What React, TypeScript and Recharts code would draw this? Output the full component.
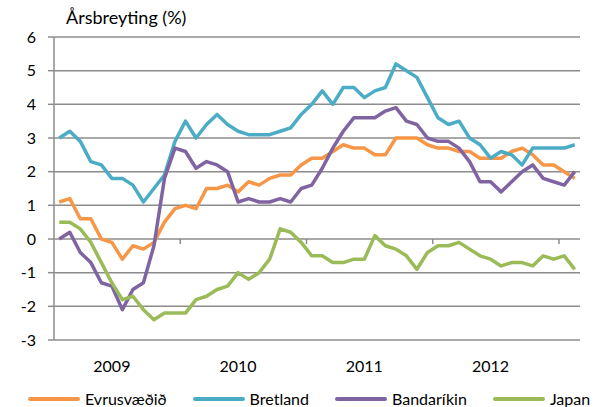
import { LineChart, Line, XAxis, YAxis, CartesianGrid, ReferenceLine, Legend } from "recharts";

// Monthly data, Jan 2009 - Feb 2013 (yearly change, %)
const YEARS = ["2009", "2010", "2011", "2012"];
const Y_TICKS = [-3, -2, -1, 0, 1, 2, 3, 4, 5, 6];

const EVRU = [
  1.1, 1.2, 0.6, 0.6, 0.0, -0.1, -0.6, -0.2, -0.3, -0.1,
  0.5, 0.9, 1.0, 0.9, 1.5, 1.5, 1.6, 1.4, 1.7, 1.6,
  1.8, 1.9, 1.9, 2.2, 2.4, 2.4, 2.6, 2.8, 2.7, 2.7,
  2.5, 2.5, 3.0, 3.0, 3.0, 2.8, 2.7, 2.7, 2.6, 2.6,
  2.4, 2.4, 2.4, 2.6, 2.7, 2.5, 2.2, 2.2, 2.0, 1.8,
];
const BRET = [
  3.0, 3.2, 2.9, 2.3, 2.2, 1.8, 1.8, 1.6, 1.1, 1.5,
  1.9, 2.9, 3.5, 3.0, 3.4, 3.7, 3.4, 3.2, 3.1, 3.1,
  3.1, 3.2, 3.3, 3.7, 4.0, 4.4, 4.0, 4.5, 4.5, 4.2,
  4.4, 4.5, 5.2, 5.0, 4.8, 4.2, 3.6, 3.4, 3.5, 3.0,
  2.8, 2.4, 2.6, 2.5, 2.2, 2.7, 2.7, 2.7, 2.7, 2.8,
];
const BAND = [
  0.0, 0.2, -0.4, -0.7, -1.3, -1.4, -2.1, -1.5, -1.3, -0.2,
  1.8, 2.7, 2.6, 2.1, 2.3, 2.2, 2.0, 1.1, 1.2, 1.1,
  1.1, 1.2, 1.1, 1.5, 1.6, 2.1, 2.7, 3.2, 3.6, 3.6,
  3.6, 3.8, 3.9, 3.5, 3.4, 3.0, 2.9, 2.9, 2.7, 2.3,
  1.7, 1.7, 1.4, 1.7, 2.0, 2.2, 1.8, 1.7, 1.6, 2.0,
];
const JAPAN = [
  0.5, 0.5, 0.3, -0.1, -0.7, -1.3, -1.8, -1.7, -2.1, -2.4,
  -2.2, -2.2, -2.2, -1.8, -1.7, -1.5, -1.4, -1.0, -1.2, -1.0,
  -0.6, 0.3, 0.2, -0.1, -0.5, -0.5, -0.7, -0.7, -0.6, -0.6,
  0.1, -0.2, -0.3, -0.5, -0.9, -0.4, -0.2, -0.2, -0.1, -0.3,
  -0.5, -0.6, -0.8, -0.7, -0.7, -0.8, -0.5, -0.6, -0.5, -0.9,
];

const SERIES = [
  { key: "evru", name: "Evrusvæðið", color: "#F79646", values: EVRU },
  { key: "bret", name: "Bretland", color: "#4BACC6", values: BRET },
  { key: "band", name: "Bandaríkin", color: "#8064A2", values: BAND },
  { key: "japan", name: "Japan", color: "#9BBB59", values: JAPAN },
];

const N = EVRU.length;
const data = EVRU.map((_, i) => {
  const row: Record<string, number> = { x: i + 0.5 };
  SERIES.forEach((s) => (row[s.key] = s.values[i]));
  return row;
});

// year boundaries (tick marks on the zero line) and year label positions
const yearBounds = YEARS.map((_, k) => (k + 1) * 12);
const yearLabelPos = YEARS.map((_, k) => k * 12 + 5.5);

const FONT = "Lato, 'Noto Sans', sans-serif";
const GRID = "#8c8c8c";

const LegendContent = () => (
  <div style={{ display: "flex", alignItems: "center", paddingLeft: 28, fontFamily: FONT, fontSize: 16 }}>
    {SERIES.map((s) => (
      <div key={s.key} style={{ display: "flex", alignItems: "center", marginRight: 26 }}>
        <div style={{ width: 52, height: 4, borderRadius: 2, background: s.color, marginRight: 5 }} />
        <span style={{ color: "#000" }}>{s.name}</span>
      </div>
    ))}
  </div>
);

export default function App() {
  return (
    <div style={{ position: "absolute", left: 0, top: 0, width: 606, height: 407, background: "#fff" }}>
      <div
        style={{ position: "absolute", left: 66, top: 6, fontFamily: FONT, fontSize: 18, color: "#000", zIndex: 2 }}
      >
        Årsbreyting (%)
      </div>
      <LineChart width={606} height={407} data={data} margin={{ top: 37, right: 26, bottom: 0, left: 0 }}>
        <CartesianGrid vertical={false} stroke={GRID} strokeWidth={1.5} />
        <XAxis
          dataKey="x"
          type="number"
          domain={[0, N]}
          ticks={yearLabelPos}
          tickFormatter={(v: number) => YEARS[Math.round((v - 5.5) / 12)]}
          axisLine={false}
          tickLine={false}
          tickSize={0}
          tickMargin={21}
          height={67}
          tick={{ fill: "#000", fontSize: 16, fontFamily: FONT }}
          interval={0}
        />
        <YAxis
          domain={[-3, 6]}
          ticks={Y_TICKS}
          width={54}
          interval={0}
          axisLine={{ stroke: GRID, strokeWidth: 1.5 }}
          tickLine={{ stroke: GRID, strokeWidth: 1.5 }}
          tickSize={6}
          tickMargin={12}
          tick={{ fill: "#000", fontSize: 16, fontFamily: FONT }}
        />
        {yearBounds.map((b) => (
          <ReferenceLine
            key={b}
            segment={[
              { x: b, y: 0 },
              { x: b, y: -0.15 },
            ]}
            stroke={GRID}
            strokeWidth={1.5}
          />
        ))}
        {SERIES.map((s) => (
          <Line
            key={s.key}
            type="linear"
            dataKey={s.key}
            name={s.name}
            stroke={s.color}
            strokeWidth={3.5}
            strokeLinejoin="round"
            dot={false}
            activeDot={false}
            isAnimationActive={false}
          />
        ))}
        <Legend
          layout="horizontal"
          verticalAlign="middle"
          align="center"
          content={LegendContent}
          wrapperStyle={{ left: 0, top: 389, width: 606, height: 24 }}
        />
      </LineChart>
    </div>
  );
}
